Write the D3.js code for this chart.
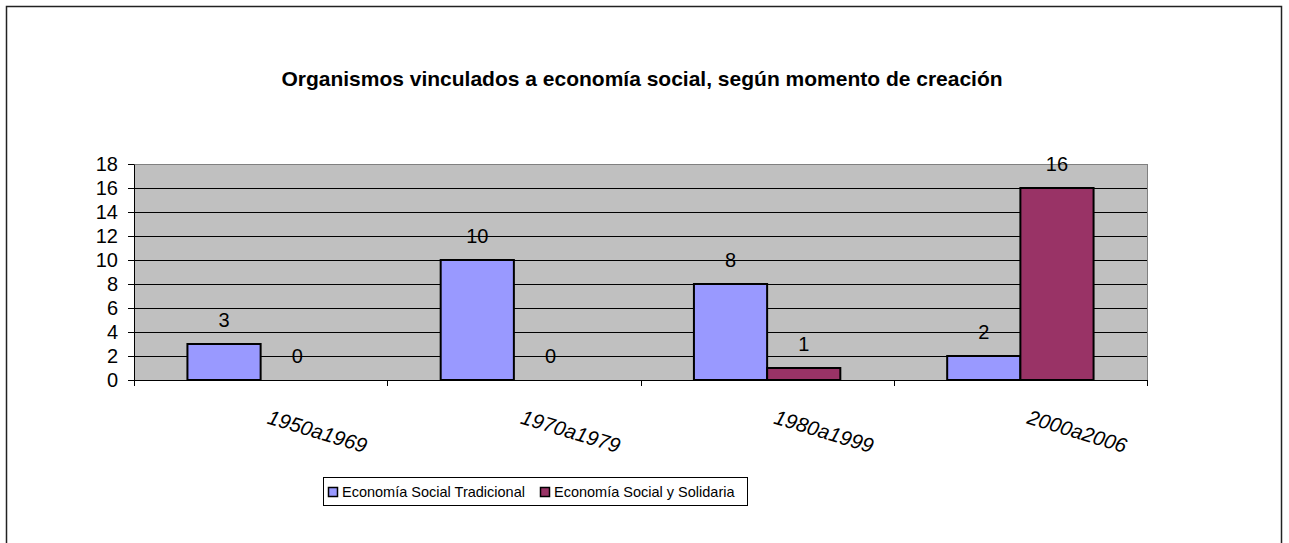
<!DOCTYPE html>
<html>
<head>
<meta charset="utf-8">
<script src="https://cdn.jsdelivr.net/npm/d3@7"></script>
<style>
  body { margin: 0; background: #fff; }
  svg { display: block; font-family: "Liberation Sans", Arial, sans-serif; }
</style>
</head>
<body>
<div id="chart"></div>
<script>
// data
var categories = ['1950a1969', '1970a1979', '1980a1999', '2000a2006'];
var seriesNames = ['Economía Social Tradicional', 'Economía Social y Solidaria'];
var tradicional = [3, 10, 8, 2];
var solidaria = [0, 0, 1, 16];
var yTicks = [0, 2, 4, 6, 8, 10, 12, 14, 16, 18];
var colors = ['#9999FF', '#993366'];

var W = 1289, H = 543;
var plot = {left: 134, top: 164, right: 1147, bottom: 380};

var svg = d3.select('#chart').append('svg')
    .attr('width', W)
    .attr('height', H);

// outer chart border (bottom edge is out of the frame)
svg.append('rect')
    .attr('x', 6.5).attr('y', 6.5)
    .attr('width', 1275).attr('height', 560)
    .attr('fill', 'none')
    .attr('stroke', '#222')
    .attr('stroke-width', 1.5);

svg.append('text')
    .attr('x', 642).attr('y', 86)
    .attr('text-anchor', 'middle')
    .style('font-weight', 'bold')
    .style('font-size', '21px')
    .text('Organismos vinculados a economía social, según momento de creación');

var x0 = d3.scaleBand()
    .domain(categories)
    .range([plot.left, plot.right]);

var x1 = d3.scaleBand()
    .domain([0, 1])
    .range([0, x0.bandwidth()])
    .paddingOuter(0.73);

var y = d3.scaleLinear()
    .domain([0, 18])
    .range([plot.bottom, plot.top]);

// plot area
svg.append('rect')
    .attr('x', plot.left).attr('y', plot.top)
    .attr('width', plot.right - plot.left)
    .attr('height', plot.bottom - plot.top)
    .attr('fill', '#C0C0C0');

svg.append('g')
    .selectAll('line')
    .data(yTicks.filter(d => d > 0))
    .join('line')
    .attr('x1', plot.left).attr('x2', plot.right)
    .attr('y1', d => Math.round(y(d)) + 0.5)
    .attr('y2', d => Math.round(y(d)) + 0.5)
    .attr('stroke', d => d == 18 ? '#808080' : '#000')
    .attr('stroke-width', 1);

// right edge of plot
svg.append('line')
    .attr('x1', plot.right + 0.5).attr('x2', plot.right + 0.5)
    .attr('y1', plot.top).attr('y2', plot.bottom)
    .attr('stroke', '#808080');

// bars
var seriesData = [tradicional, solidaria];
var groups = svg.append('g')
    .selectAll('g')
    .data(categories)
    .join('g')
    .attr('transform', d => 'translate(' + x0(d) + ',0)');

groups.selectAll('rect')
    .data((d, i) => seriesData.map((s, j) => ({s: j, v: s[i]})))
    .join('rect')
    .attr('x', d => x1(d.s))
    .attr('y', d => y(d.v))
    .attr('width', x1.bandwidth())
    .attr('height', d => y(0) - y(d.v))
    .attr('fill', d => colors[d.s])
    .attr('stroke', '#000')
    .attr('stroke-width', d => d.v > 0 ? 2 : 0);

groups.selectAll('text')
    .data((d, i) => seriesData.map((s, j) => ({s: j, v: s[i]})))
    .join('text')
    .attr('x', d => x1(d.s) + x1.bandwidth() / 2)
    .attr('y', d => y(d.v) - 17)
    .attr('text-anchor', 'middle')
    .style('font-size', '20px')
    .text(d => d.v);

// axes
var yAxis = svg.append('g')
    .attr('transform', 'translate(' + plot.left + ',0)')
    .call(d3.axisLeft(y).tickValues(yTicks).tickSize(6).tickPadding(10).tickSizeOuter(0));

var xAxis = svg.append('g')
    .attr('transform', 'translate(0,' + plot.bottom + ')')
    .call(d3.axisBottom(x0).tickValues([]).tickSizeOuter(0));

svg.append('g')
    .selectAll('line')
    .data(categories.concat(['end']))
    .join('line')
    .attr('x1', (d, i) => Math.round(plot.left + i * x0.bandwidth()) + 0.5)
    .attr('x2', (d, i) => Math.round(plot.left + i * x0.bandwidth()) + 0.5)
    .attr('y1', plot.bottom).attr('y2', plot.bottom + 6)
    .attr('stroke', '#000');

[yAxis, xAxis].forEach(function(a){
    a.selectAll('path,line').attr('stroke', '#000');
    a.selectAll('text')
        .attr('fill', '#000')
        .style('font-size', '20px')
        .style('font-family', '"Liberation Sans", Arial, sans-serif');
});

svg.append('g')
    .selectAll('text')
    .data(categories)
    .join('text')
    .attr('transform', d => 'translate(' + (x0(d) + x0.bandwidth() / 2 + 57) + ',431) rotate(17)')
    .attr('text-anchor', 'middle')
    .attr('dominant-baseline', 'central')
    .style('font-size', '20.5px')
    .style('font-style', 'italic')
    .text(d => d);

// legend
var legend = svg.append('g');
legend.append('rect')
    .attr('x', 323.5).attr('y', 477.5)
    .attr('width', 424).attr('height', 28)
    .attr('fill', '#fff')
    .attr('stroke', '#000');

var lx = [328, 540];
seriesNames.forEach(function(name, i){
    legend.append('rect')
        .attr('x', lx[i] + 0.5).attr('y', 487.5)
        .attr('width', 9).attr('height', 9)
        .attr('fill', colors[i])
        .attr('stroke', '#000')
        .attr('stroke-width', 1.5);
    legend.append('text')
        .attr('x', lx[i] + 14).attr('y', 497)
        .style('font-size', '14.5px')
        .text(name);
});
</script>
</body>
</html>
